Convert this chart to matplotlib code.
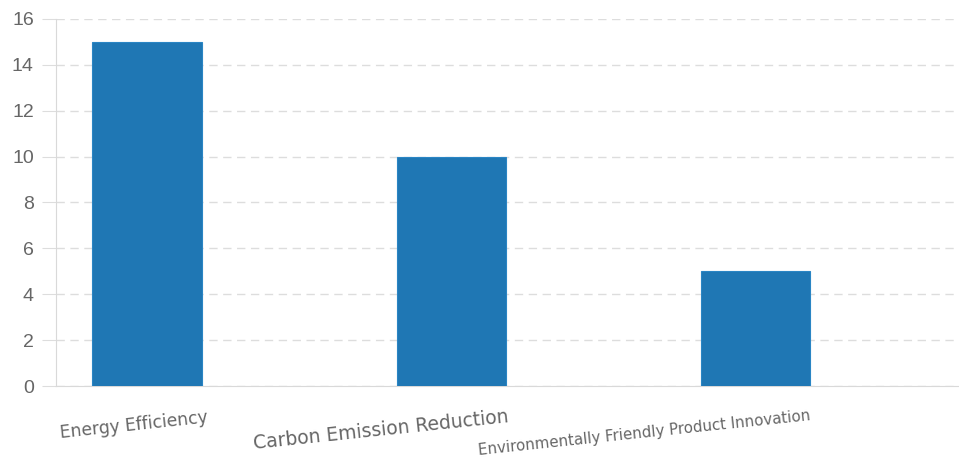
import matplotlib.pyplot as plt

categories = ['Energy Efficiency', 'Carbon Emission Reduction',
              'Environmentally Friendly Product Innovation']
values = [15, 10, 5]
yticks = [0, 2, 4, 6, 8, 10, 12, 14, 16]

# per-label font size (pt) and offset of the label's right end from the bar centre (points)
label_sizes = [12.3, 13.5, 10.8]
label_offsets = [(44, -26), (42, -26), (40, -24.5)]

plt.rcParams['font.family'] = ['Liberation Sans', 'DejaVu Sans']

fig = plt.figure(figsize=(9.59, 4.62), dpi=100)
ax = fig.add_axes([0.0584, 0.1645, 0.9416, 0.7945])

x = range(len(categories))
ax.bar(x, values, width=0.36, color='#1f77b4', edgecolor='#2a85c4', linewidth=0.8, zorder=3)

ax.set_xlim(-0.3, 2.67)
ax.set_ylim(0, 16)
ax.set_yticks(yticks)
ax.set_yticklabels([str(t) for t in yticks], fontsize=14, color='#666666')
ax.tick_params(axis='y', length=10, color='#dddddd', pad=6)
ax.tick_params(axis='x', length=0, labelbottom=False)

ax.grid(axis='y', color='#dddddd', linestyle=(0, (6, 4)), linewidth=1, zorder=0)
for s in ['top', 'right']:
    ax.spines[s].set_visible(False)
ax.spines['left'].set_color('#d9d9d9')
ax.spines['bottom'].set_color('#d9d9d9')

for i, lab in enumerate(categories):
    ax.annotate(lab, xy=(i, 0), xycoords='data', xytext=label_offsets[i],
                textcoords='offset points', ha='right', va='baseline',
                rotation=6, rotation_mode='anchor', fontsize=label_sizes[i],
                family='DejaVu Sans', color='#666666', annotation_clip=False)

fig.savefig('out.png', dpi=100)
